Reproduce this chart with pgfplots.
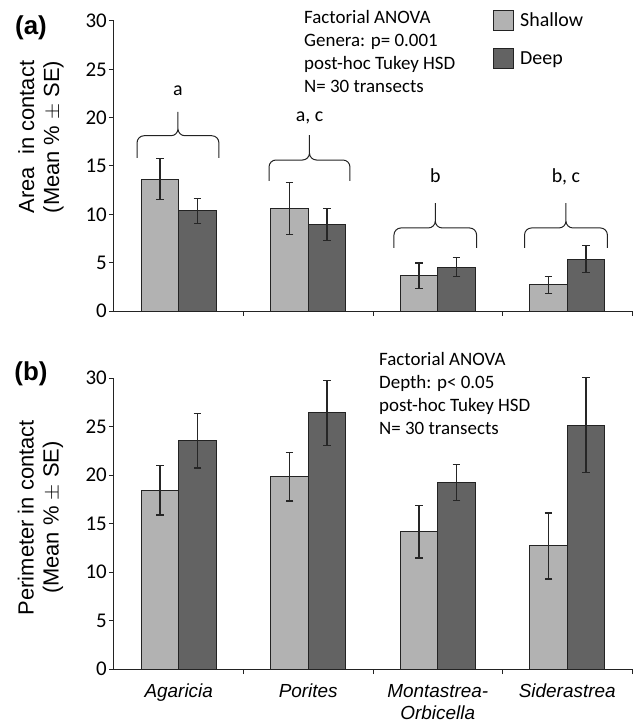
\documentclass[border=0pt]{standalone}
\usepackage{fontspec}
\setmainfont{Liberation Sans}
\newfontfamily\calibri{Carlito}
\usepackage{pgfplots}
\usepackage{pgfplotstable}
\pgfplotsset{compat=1.18}
\definecolor{shallow}{RGB}{178,178,178}
\definecolor{deep}{RGB}{99,99,99}
\definecolor{edge}{RGB}{35,35,35}

\pgfplotstableread{
x   s     sp   sm   d     dp   dm
0.5 13.65 2.15 2.15 10.35 1.30 1.30
1.5 10.60 2.70 2.70 8.95  1.68 1.68
2.5 3.65  1.30 1.30 4.55  1.00 1.00
3.5 2.70  0.90 0.90 5.35  1.40 1.40
}\areadata

\pgfplotstableread{
x   s     sp   sm   d     dp   dm
0.5 18.44 2.55 2.55 23.53 2.80 2.80
1.5 19.81 2.50 2.50 26.40 3.35 3.35
2.5 14.14 2.70 2.70 19.23 1.85 1.85
3.5 12.69 3.40 3.40 25.15 4.90 4.90
}\perimdata

\newcommand{\grpbrace}[5]{%
  \draw[line width=1bp, edge]
    (axis cs:#1,#4) -- ([yshift=-7bp]axis cs:#1,#3)
    to[out=90,in=180] ([xshift=7bp]axis cs:#1,#3)
    -- ([xshift=-7bp]axis cs:{(#1+#2)/2},#3)
    to[out=0,in=-90] ([yshift=7bp]axis cs:{(#1+#2)/2},#3)
    -- (axis cs:{(#1+#2)/2},#5)
    (axis cs:{(#1+#2)/2},#5) -- ([yshift=7bp]axis cs:{(#1+#2)/2},#3)
    to[out=-90,in=180] ([xshift=7bp]axis cs:{(#1+#2)/2},#3)
    -- ([xshift=-7bp]axis cs:#2,#3)
    to[out=0,in=90] ([yshift=-7bp]axis cs:#2,#3)
    -- (axis cs:#2,#4);
}

\pgfplotsset{
  panel/.style={
    width=518bp, height=290bp, scale only axis,
    xmin=0, xmax=4, ymin=0, ymax=30,
    axis x line*=bottom, axis y line*=left,
    axis line style={line width=1bp, color=edge, -},
    ytick={0,5,...,30},
    yticklabel style={font=\calibri\fontsize{21}{21}\selectfont, inner sep=2bp},
    /pgf/number format/assume math mode=true,
    xtick={0.5,1.5,2.5,3.5},
    minor xtick={1,2,3,4},
    major x tick style={draw=none},
    tick align=outside,
    major tick length=5bp, minor tick length=5bp,
    every tick/.style={line width=1bp, color=edge},
    ybar=0pt, bar width=37.5bp,
    clip=false,
    error bars/y dir=both, error bars/y explicit,
    error bars/error bar style={line width=1.3bp, color=black!85},
    error bars/error mark options={rotate=90, mark size=3.8bp, line width=1.3bp, color=black!85},
    ylabel style={at={(axis description cs:-0.141,0.6)}, anchor=center, align=center,
      font=\fontsize{22}{25}\selectfont},
  }
}

\begin{document}
\begin{tikzpicture}
\useasboundingbox (-114bp,-413bp) rectangle (522bp,311bp);

\begin{axis}[panel, at={(0,0)}, anchor=origin,
  xticklabels={},
  ylabel={Area~ in contact\\(Mean \% $\pm$ SE)},
  legend style={at={(0.7317,1.038)}, anchor=north west, draw=none, fill=none,
    inner sep=0pt, row sep=17bp, font=\calibri\fontsize{20}{24}\selectfont,
    cells={anchor=west}, /tikz/every odd column/.append style={column sep=4bp}},
  legend image code/.code={\draw[#1, line width=1bp] (0bp,-10bp) rectangle (20bp,10bp);},
]
\addplot[fill=shallow, draw=edge, line width=1bp]
  table[x=x, y=s, y error plus=sp, y error minus=sm] {\areadata};
\addplot[fill=deep, draw=edge, line width=1bp]
  table[x=x, y=d, y error plus=dp, y error minus=dm] {\areadata};
\legend{Shallow,Deep}

\grpbrace{0.178}{0.810}{18.13}{15.83}{20.59}
\grpbrace{1.197}{1.822}{15.62}{13.45}{18.20}
\grpbrace{2.162}{2.800}{8.59}{6.52}{11.17}
\grpbrace{3.170}{3.810}{8.59}{6.52}{11.17}

\begin{scope}[every node/.style={font=\calibri\fontsize{20}{24}\selectfont, anchor=base, inner sep=0pt}]
\node at (axis cs:0.494,22.34) {a};
\node at (axis cs:1.510,19.58) {a, c};
\node at (axis cs:2.481,13.27) {b};
\node at (axis cs:3.490,13.27) {b, c};
\end{scope}
\end{axis}

\begin{axis}[panel, at={(0,-358bp)}, anchor=origin, height=291bp,
  xticklabels={Agaricia, Porites, {Montastrea-\\Orbicella}, Siderastrea},
  xticklabel style={anchor=north, inner sep=0pt, yshift=-10bp, align=center,
    font=\itshape\fontsize{19}{22}\selectfont},
  ylabel={Perimeter in contact\\(Mean \% $\pm$ SE)},
  ylabel style={at={(axis description cs:-0.142,0.52)}},
]
\addplot[fill=shallow, draw=edge, line width=1bp]
  table[x=x, y=s, y error plus=sp, y error minus=sm] {\perimdata};
\addplot[fill=deep, draw=edge, line width=1bp]
  table[x=x, y=d, y error plus=dp, y error minus=dm] {\perimdata};
\end{axis}

\begin{scope}[every node/.style={font=\calibri\fontsize{19}{23}\selectfont, anchor=base west, inner sep=0pt}]
\node at (190bp,287bp) {Factorial ANOVA};
\node at (190bp,264.3bp) {Genera: p= 0.001};
\node at (190bp,241bp) {post-hoc Tukey HSD};
\node at (190bp,218.3bp) {N= 30 transects};
\node at (265bp,-54bp) {Factorial ANOVA};
\node at (265bp,-77bp) {Depth: p< 0.05};
\node at (265bp,-100bp) {post-hoc Tukey HSD};
\node at (265bp,-123bp) {N= 30 transects};
\end{scope}

\node[font=\bfseries\fontsize{26}{26}\selectfont, inner sep=0pt] at (-83bp,283bp) {(a)};
\node[font=\bfseries\fontsize{26}{26}\selectfont, inner sep=0pt] at (-83bp,-63bp) {(b)};
\end{tikzpicture}
\end{document}
